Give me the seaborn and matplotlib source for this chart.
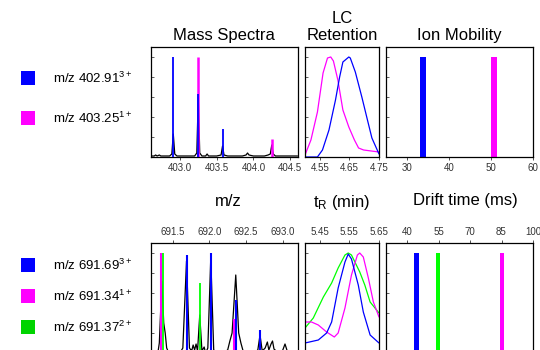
import matplotlib
matplotlib.use("Agg")
import matplotlib.pyplot as plt
import seaborn as sns
from matplotlib.patches import Rectangle

# ---------------- data: upper ion set (m/z 402.91 / 403.25) ----------------
top_profile_mz = [402.60, 402.65, 402.67, 402.69, 402.72, 402.74, 402.80, 402.86,
                  402.89, 402.91, 402.93, 402.96, 403.00, 403.05, 403.10, 403.15,
                  403.20, 403.23, 403.25, 403.27, 403.30, 403.35, 403.37, 403.39,
                  403.45, 403.50, 403.56, 403.58, 403.60, 403.65, 403.70, 403.75,
                  403.80, 403.85, 403.90, 403.92, 403.94, 404.00, 404.05, 404.10,
                  404.15, 404.20, 404.23, 404.25, 404.27, 404.30, 404.40, 404.50,
                  404.60]
top_profile_int = [0.01, 0.01, 0.02, 0.01, 0.02, 0.01, 0.01, 0.01,
                   0.03, 0.23, 0.03, 0.01, 0.01, 0.01, 0.01, 0.01,
                   0.01, 0.04, 0.60, 0.04, 0.01, 0.01, 0.03, 0.01,
                   0.01, 0.01, 0.02, 0.11, 0.02, 0.01, 0.01, 0.01,
                   0.01, 0.01, 0.02, 0.04, 0.02, 0.01, 0.01, 0.01,
                   0.01, 0.02, 0.03, 0.12, 0.03, 0.01, 0.01, 0.01,
                   0.01]
top_blue_mz = [402.91, 403.25, 403.58]
top_blue_int = [1.0, 0.63, 0.28]
top_magenta_mz = [403.25, 404.25]
top_magenta_int = [1.0, 0.18]

top_lc_magenta_t = [4.500, 4.520, 4.542, 4.561, 4.576, 4.587, 4.596, 4.611, 4.628,
                    4.648, 4.667, 4.681, 4.698, 4.750]
top_lc_magenta_i = [0.02, 0.17, 0.45, 0.84, 0.99, 1.00, 0.96, 0.77, 0.47,
                    0.30, 0.17, 0.09, 0.07, 0.05]
top_lc_blue_t = [4.500, 4.542, 4.559, 4.581, 4.603, 4.617, 4.628, 4.648, 4.653,
                 4.670, 4.692, 4.711, 4.726, 4.750]
top_lc_blue_i = [0.00, 0.00, 0.07, 0.27, 0.57, 0.80, 0.95, 1.00, 0.99,
                 0.85, 0.60, 0.37, 0.19, 0.03]

top_drift = [33.8, 50.7]
top_drift_int = [1.0, 1.0]

# ---------------- data: lower ion set (m/z 691.69 / 691.34 / 691.37) ----------------
bot_profile_mz = [691.20, 691.30, 691.32, 691.355, 691.38, 691.40, 691.42, 691.45,
                  691.60, 691.64, 691.69, 691.73, 691.76, 691.78, 691.80, 691.82,
                  691.84, 691.87, 691.90, 691.93, 691.95, 691.98, 692.02, 692.06,
                  692.10, 692.15, 692.20, 692.25, 692.28, 692.31, 692.36, 692.40,
                  692.43, 692.46, 692.60, 692.66, 692.69, 692.72, 692.76, 692.79,
                  692.81, 692.84, 692.86, 692.88, 692.91, 692.96, 693.00, 693.03,
                  693.06, 693.10, 693.20]
bot_profile_int = [0.0, 0.0, 0.10, 0.72, 0.30, 0.20, 0.05, 0.0,
                   0.0, 0.05, 0.92, 0.05, 0.02, 0.08, 0.03, 0.09,
                   0.02, 0.38, 0.02, 0.06, 0.0, 0.05, 0.95, 0.03,
                   0.01, 0.02, 0.01, 0.03, 0.12, 0.20, 0.78, 0.20,
                   0.10, 0.02, 0.0, 0.03, 0.18, 0.02, 0.05, 0.11,
                   0.03, 0.09, 0.12, 0.04, 0.02, 0.0, 0.03, 0.09,
                   0.02, 0.0, 0.0]
bot_blue_mz = [691.69, 692.02, 692.36, 692.69]
bot_blue_int = [0.98, 1.0, 0.53, 0.23]
bot_magenta_mz = [691.34, 692.34]
bot_magenta_int = [1.0, 0.34]
bot_green_mz = [691.37, 691.87, 692.37]
bot_green_int = [1.0, 0.70, 0.37]

bot_lc_green_t = [5.400, 5.428, 5.462, 5.490, 5.512, 5.535, 5.546, 5.557, 5.585,
                  5.602, 5.620, 5.650]
bot_lc_green_i = [0.25, 0.35, 0.56, 0.70, 0.85, 0.98, 1.00, 0.98, 0.81,
                  0.68, 0.51, 0.40]
bot_lc_magenta_t = [5.400, 5.422, 5.445, 5.473, 5.499, 5.512, 5.535, 5.557, 5.577,
                    5.585, 5.597, 5.614, 5.631, 5.650]
bot_lc_magenta_i = [0.31, 0.31, 0.28, 0.21, 0.16, 0.20, 0.45, 0.78, 0.98,
                    1.00, 0.96, 0.75, 0.51, 0.36]
bot_lc_blue_t = [5.400, 5.445, 5.473, 5.490, 5.512, 5.535, 5.546, 5.557, 5.580,
                 5.597, 5.620, 5.650]
bot_lc_blue_i = [0.10, 0.13, 0.20, 0.31, 0.65, 0.91, 0.99, 0.94, 0.68,
                 0.41, 0.18, 0.10]

bot_drift = [44.5, 54.8, 85.3]
bot_drift_int = [1.0, 1.0, 1.0]

# legend entries
top_labels = ["m/z 402.91", "m/z 403.25"]
top_charges = ["3+", "1+"]
bot_labels = ["m/z 691.69", "m/z 691.34", "m/z 691.37"]
bot_charges = ["3+", "1+", "2+"]

BLUE = "#0000ff"
MAGENTA = "#ff00ff"
GREEN = "#00ff00"
LEGEND_GREEN = "#00d400"

sns.set_style("white")
plt.rcParams["font.family"] = ["Liberation Sans", "DejaVu Sans"]
plt.rcParams["mathtext.fontset"] = "custom"
plt.rcParams["mathtext.rm"] = "Liberation Sans"
plt.rcParams["mathtext.it"] = "Liberation Sans:italic"
plt.rcParams["text.color"] = "black"
plt.rcParams["axes.labelcolor"] = "black"

W, H = 540, 350
fig = plt.figure(figsize=(W / 100, H / 100), dpi=100)


def add_axes(left, top, right, bottom):
    return fig.add_axes([left / W, 1 - bottom / H, (right - left) / W, (bottom - top) / H])


def style_axes(ax, xlim, xticks, fmt, ticks_on_top=False):
    ax.set_xlim(*xlim)
    ax.set_ylim(0, 1.1)
    ax.set_yticks([0, 0.2, 0.4, 0.6, 0.8, 1.0])
    ax.set_yticklabels([])
    ax.tick_params(axis="y", direction="in", length=2, width=0.6, left=True, colors="#444")
    ax.set_xticks(xticks)
    ax.set_xticklabels([fmt.format(t) for t in xticks])
    ax.tick_params(axis="x", direction="out", length=2.5, width=0.6, labelsize=7,
                   pad=2, colors="#333",
                   bottom=not ticks_on_top, labelbottom=not ticks_on_top,
                   top=ticks_on_top, labeltop=ticks_on_top)
    ax.set_xlabel("")
    ax.set_ylabel("")
    for s in ax.spines.values():
        s.set_color("black")
        s.set_linewidth(0.9)


# ---------------- top row ----------------
ax_ms1 = add_axes(150.5, 47, 297.5, 157)
ax_lc1 = add_axes(305, 47, 379, 157)
ax_im1 = add_axes(386, 47, 533, 157)

sns.lineplot(x=top_profile_mz, y=top_profile_int, color="black", lw=0.9,
             sort=False, ax=ax_ms1, zorder=1)
ax_ms1.vlines(top_magenta_mz, 0, top_magenta_int, color=MAGENTA, lw=1.8, zorder=2)
ax_ms1.vlines(top_blue_mz, 0, top_blue_int, color=BLUE, lw=1.3, zorder=3)
style_axes(ax_ms1, (402.6, 404.6), [403.0, 403.5, 404.0, 404.5], "{:.1f}")

sns.lineplot(x=top_lc_magenta_t, y=top_lc_magenta_i, color=MAGENTA, lw=0.9,
             sort=False, ax=ax_lc1)
sns.lineplot(x=top_lc_blue_t, y=top_lc_blue_i, color=BLUE, lw=0.9,
             sort=False, ax=ax_lc1)
style_axes(ax_lc1, (4.50, 4.75), [4.55, 4.65, 4.75], "{:.2f}")

ax_im1.bar(top_drift, top_drift_int, width=1.25, color=[BLUE, MAGENTA], linewidth=0)
style_axes(ax_im1, (25, 60), [30, 40, 50, 60], "{:d}")

ax_ms1.set_title("Mass Spectra", fontsize=12, pad=5, color="black")
ax_lc1.set_title("LC\nRetention", fontsize=12, pad=5, linespacing=1.15, color="black")
ax_im1.set_title("Ion Mobility", fontsize=12, pad=5, color="black")

# ---------------- bottom row (ticks on top, cut at the figure edge) ----------------
ax_ms2 = add_axes(150.5, 243, 297.5, 353)
ax_lc2 = add_axes(305, 243, 379, 353)
ax_im2 = add_axes(386, 243, 533, 353)

sns.lineplot(x=bot_profile_mz, y=bot_profile_int, color="black", lw=0.9,
             sort=False, ax=ax_ms2, zorder=1)
ax_ms2.vlines(bot_magenta_mz, 0, bot_magenta_int, color=MAGENTA, lw=1.5, zorder=2)
ax_ms2.vlines(bot_green_mz, 0, bot_green_int, color=GREEN, lw=1.3, zorder=3)
ax_ms2.vlines(bot_blue_mz, 0, bot_blue_int, color=BLUE, lw=1.5, zorder=4)
style_axes(ax_ms2, (691.2, 693.2), [691.5, 692.0, 692.5, 693.0], "{:.1f}", ticks_on_top=True)

sns.lineplot(x=bot_lc_green_t, y=bot_lc_green_i, color=GREEN, lw=0.9, sort=False, ax=ax_lc2)
sns.lineplot(x=bot_lc_magenta_t, y=bot_lc_magenta_i, color=MAGENTA, lw=0.9, sort=False, ax=ax_lc2)
sns.lineplot(x=bot_lc_blue_t, y=bot_lc_blue_i, color=BLUE, lw=0.9, sort=False, ax=ax_lc2)
style_axes(ax_lc2, (5.40, 5.65), [5.45, 5.55, 5.65], "{:.2f}", ticks_on_top=True)

ax_im2.bar(bot_drift, bot_drift_int, width=2.1, color=[BLUE, GREEN, MAGENTA], linewidth=0)
style_axes(ax_im2, (30, 100), [40, 55, 70, 85, 100], "{:d}", ticks_on_top=True)

# axis titles between the two rows
fig.text(228 / W, 1 - 201 / H, "m/z", fontsize=12, ha="center", va="center")
fig.text(342 / W, 1 - 202 / H, r"t$_{\mathrm{R}}$ (min)", fontsize=12, ha="center", va="center")
fig.text(465 / W, 1 - 201 / H, "Drift time (ms)", fontsize=12, ha="center", va="center")


# ---------------- colour key on the left ----------------
def key(y_center, color, label, charge):
    fig.patches.append(Rectangle((21 / W, 1 - (y_center + 7) / H), 14 / W, 14 / H,
                                 transform=fig.transFigure, color=color, lw=0))
    fig.text(53 / W, 1 - y_center / H, label + r"$^{\mathrm{" + charge + "}}$",
             fontsize=9.5, ha="left", va="center", color="black")


for yc, c, lab, ch in zip([78, 118], [BLUE, MAGENTA], top_labels, top_charges):
    key(yc, c, lab, ch)
for yc, c, lab, ch in zip([265, 296, 327], [BLUE, MAGENTA, LEGEND_GREEN], bot_labels, bot_charges):
    key(yc, c, lab, ch)

fig.savefig("out.png", dpi=100)
